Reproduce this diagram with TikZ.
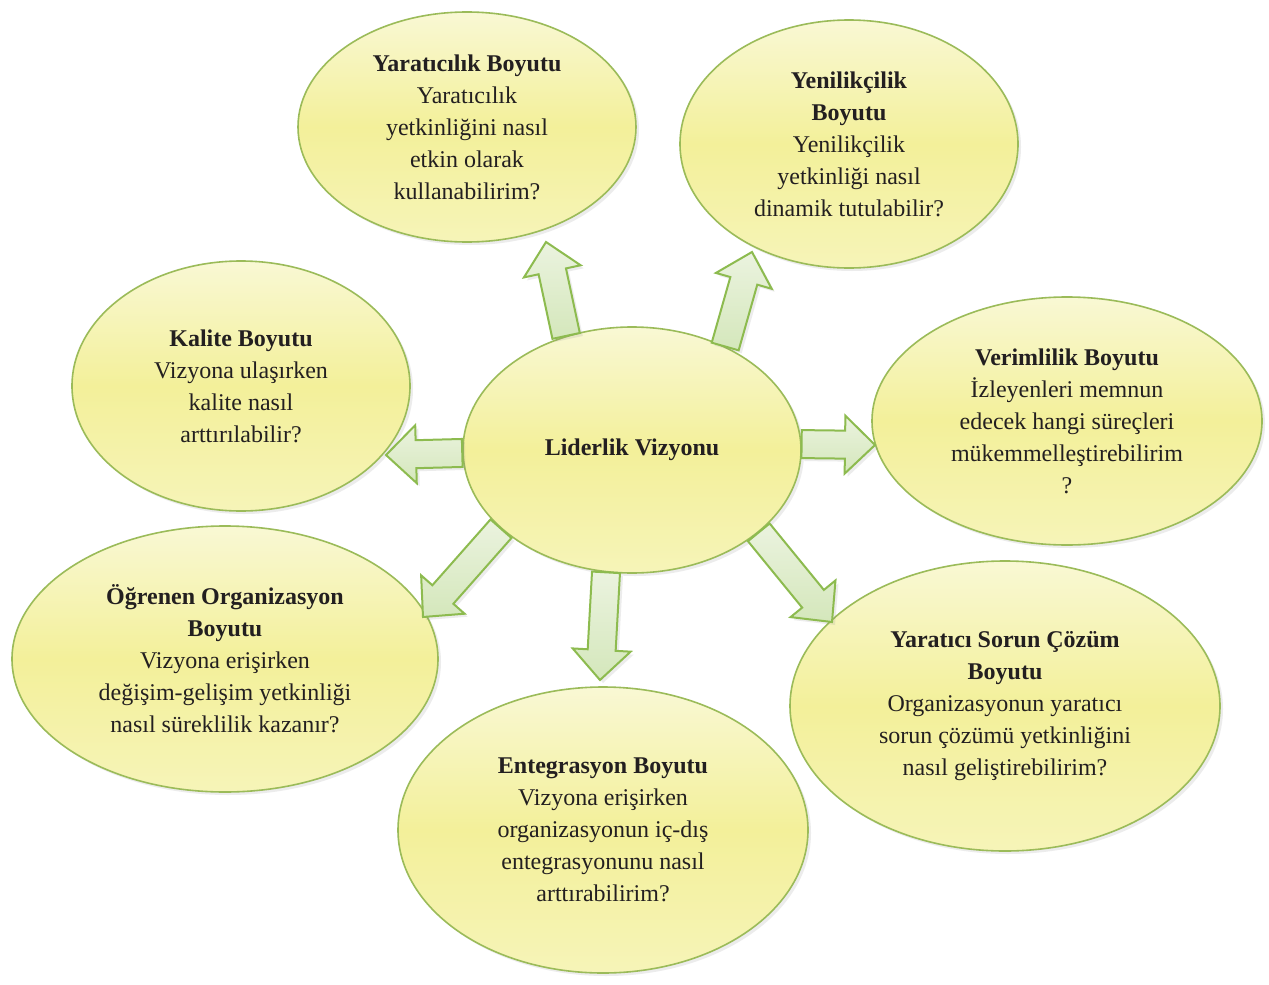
\documentclass[tikz,border=0pt]{standalone}
\usepackage{fontspec}
\setmainfont{Liberation Serif}
\usetikzlibrary{shapes.geometric,calc,shadows}

\definecolor{rimgreen}{HTML}{9BBB59}
\definecolor{arrowrim}{HTML}{8DBB4F}
\definecolor{bubtop}{HTML}{F9F8D4}
\definecolor{bubmid}{HTML}{F3F09A}
\definecolor{bubbot}{HTML}{F6F4B8}
\definecolor{arrtop}{HTML}{EBF3DF}
\definecolor{arrbot}{HTML}{D4E7BB}
\definecolor{inkgrey}{HTML}{231F20}

\tikzset{
  bubble/.style={ellipse, draw=rimgreen, line width=0.8pt, top color=bubtop, bottom color=bubbot,
    middle color=bubmid, inner sep=0pt, align=center, text=inkgrey,
    font=\fontsize{12}{16}\selectfont,
    drop shadow={opacity=0.15, shadow xshift=1.5pt, shadow yshift=-1.5pt}},
  blockarr/.style={draw=arrowrim, line width=1pt, line join=miter, top color=arrtop, bottom color=arrbot,
    drop shadow={opacity=0.15, shadow xshift=1.5pt, shadow yshift=-1.5pt}}
}

% block arrow from #1 to the tip #2
\newcommand{\blockarrow}[2]{%
  \coordinate (neck) at ($(#2)!15pt!(#1)$);
  \path[blockarr] ($(#1)!7pt!90:(#2)$) -- ($(neck)!7pt!90:(#2)$) -- ($(neck)!14.5pt!90:(#2)$) -- (#2)
    -- ($(neck)!14.5pt!-90:(#2)$) -- ($(neck)!7pt!-90:(#2)$) -- ($(#1)!7pt!-90:(#2)$) -- cycle;}

\begin{document}
\begin{tikzpicture}[x=0.5pt,y=-0.5pt]
  \path[use as bounding box, fill=white] (0,0) rectangle (1269,985);

  \node[bubble, minimum width=169pt, minimum height=123pt] (ctr) at (632,450) {\textbf{Liderlik Vizyonu}};

  \node[bubble, minimum width=169pt, minimum height=115pt] (yar) at (467,127)
    {\textbf{Yaratıcılık Boyutu}\\Yaratıcılık\\yetkinliğini nasıl\\etkin olarak\\kullanabilirim?};
  \node[bubble, minimum width=169pt, minimum height=124pt] (yen) at (849,144)
    {\textbf{Yenilikçilik}\\\textbf{Boyutu}\\Yenilikçilik\\yetkinliği nasıl\\dinamik tutulabilir?};
  \node[bubble, minimum width=169pt, minimum height=125pt] (kal) at (241,386)
    {\textbf{Kalite Boyutu}\\Vizyona ulaşırken\\kalite nasıl\\arttırılabilir?};
  \node[bubble, minimum width=195pt, minimum height=124pt] (ver) at (1067,421)
    {\textbf{Verimlilik Boyutu}\\İzleyenleri memnun\\edecek hangi süreçleri\\mükemmelleştirebilirim\\?};
  \node[bubble, minimum width=213pt, minimum height=133pt] (ogr) at (225,659)
    {\textbf{Öğrenen Organizasyon}\\\textbf{Boyutu}\\Vizyona erişirken\\değişim-gelişim yetkinliği\\nasıl süreklilik kazanır?};
  \node[bubble, minimum width=205pt, minimum height=143pt] (ent) at (603,830)
    {\textbf{Entegrasyon Boyutu}\\Vizyona erişirken\\organizasyonun iç-dış\\entegrasyonunu nasıl\\arttırabilirim?};
  \node[bubble, minimum width=215pt, minimum height=145pt] (sor) at (1005,706)
    {\textbf{Yaratıcı Sorun Çözüm}\\\textbf{Boyutu}\\Organizasyonun yaratıcı\\sorun çözümü yetkinliğini\\nasıl geliştirebilirim?};

  % arrow tips
  \coordinate (tyar) at (546,242);
  \coordinate (tyen) at (752,252);
  \coordinate (tkal) at (386,455);
  \coordinate (tver) at (875,445);
  \coordinate (togr) at (423,617);
  \coordinate (tent) at (600,680);
  \coordinate (tsor) at (832,622);

  \foreach \ang/\tip in {120/tyar,48/tyen,181/tkal,2/tver,211/togr,258/tent,327/tsor}
    \blockarrow{ctr.\ang}{\tip};
\end{tikzpicture}
\end{document}
